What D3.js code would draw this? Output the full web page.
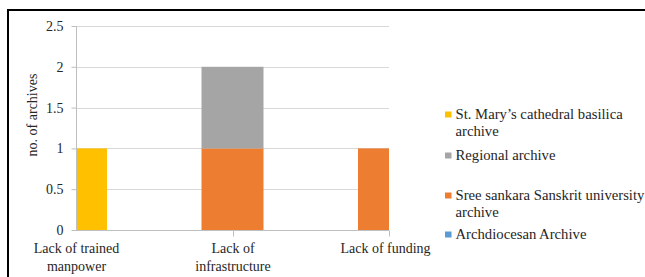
<!DOCTYPE html>
<html>
<head>
<meta charset="utf-8">
<script src="https://cdn.jsdelivr.net/npm/d3@7"></script>
</head>
<body style="margin:0">
<div id="chart"></div>
<script>
// chart data
var categories = ["Lack of trained\nmanpower", "Lack of\ninfrastructure", "Lack of funding"];
var seriesNames = ["Archdiocesan Archive", "Sree sankara Sanskrit university archive", "Regional archive", "St. Mary\u2019s cathedral basilica archive"];
var archdiocesan = [0, 0, 0];
var sreeSankara = [0, 1, 1];
var regional = [0, 1, 0];
var stMarys = [1, 0, 0];
var yTicks = [0, 0.5, 1, 1.5, 2, 2.5];
var colors = ["#5B9BD5", "#ED7D31", "#A5A5A5", "#FFC000"];

// legend text as it wraps in the picture (top to bottom)
var legendLines = [
  ["St. Mary\u2019s cathedral basilica", "archive"],
  ["Regional archive"],
  ["Sree sankara Sanskrit university", "archive"],
  ["Archdiocesan Archive"]
];
var legendColors = ["#FFC000", "#A5A5A5", "#ED7D31", "#5B9BD5"];
var legendY = [119, 160, 200, 239];

var chart = new Object;
var FONT = "'Liberation Serif'";

chart.create = function() {
  var svg, x, y, rows, stack, stacked, g, left = 76, right = 389, bottom = 230, top = 26;
  svg = d3.select("#chart").append("svg").attr("width", 645).attr("height", 277)
    .attr("font-family", FONT);

  // outer frame (only top and left visible)
  svg.append("path").attr("d", "M8,277 V10 H645").attr("fill", "none")
    .attr("stroke", "#000").attr("stroke-width", 2);

  x = d3.scalePoint().domain(categories).range([left, right]);
  y = d3.scaleLinear().domain([0, 2.5]).range([bottom, top]);

  // gridlines
  svg.append("g").selectAll("line").data(yTicks.slice(1)).enter().append("line")
    .attr("x1", left).attr("x2", right)
    .attr("y1", function(d) { return Math.round(y(d)) + 0.5; })
    .attr("y2", function(d) { return Math.round(y(d)) + 0.5; })
    .attr("stroke", "#d9d9d9").attr("stroke-width", 1);

  rows = categories.map(function(c, i) {
    return { cat: c, s0: archdiocesan[i], s1: sreeSankara[i], s2: regional[i], s3: stMarys[i] };
  });
  stack = d3.stack().keys(["s0", "s1", "s2", "s3"]);
  stacked = stack(rows);

  svg.append("clipPath").attr("id", "plot").append("rect")
    .attr("x", left).attr("y", 0).attr("width", right - left).attr("height", 277);

  g = svg.append("g").attr("clip-path", "url(#plot)");
  g.selectAll("g").data(stacked).enter().append("g")
    .attr("fill", function(d, i) { return colors[i]; })
    .selectAll("rect").data(function(d) { return d; }).enter().append("rect")
    .attr("x", function(d) { return x(d.data.cat) - 31; })
    .attr("width", 62)
    .attr("y", function(d) { return y(d[1]); })
    .attr("height", function(d) { return y(d[0]) - y(d[1]); });

  // y axis
  var ya = svg.append("g").attr("transform", "translate(" + (left + 0.5) + ",0)")
    .call(d3.axisLeft(y).tickValues(yTicks).tickSize(5).tickPadding(8).tickFormat(d3.format("")));
  ya.attr("font-family", FONT);
  ya.select(".domain").attr("stroke", "#bfbfbf").attr("d", "M0," + top + "V" + bottom);
  ya.selectAll(".tick line").attr("stroke", "#bfbfbf");
  ya.selectAll(".tick text").attr("font-size", 14).attr("fill", "#262626")
    .attr("font-family", FONT);

  // x axis
  var xa = svg.append("g").attr("transform", "translate(0," + (bottom + 0.5) + ")")
    .call(d3.axisBottom(x).tickSize(6).tickFormat(""));
  xa.attr("font-family", FONT);
  xa.select(".domain").attr("stroke", "#bfbfbf").attr("d", "M" + left + ",0H" + right);
  xa.selectAll(".tick line").attr("stroke", "#bfbfbf")
    .attr("transform", function(d, i) { return i === 1 ? "translate(0.5,0)" : ""; })
    .style("display", function(d, i) { return i === 0 ? "none" : null; });
  xa.selectAll(".tick").append("text")
    .attr("font-size", 14).attr("fill", "#262626").attr("font-family", FONT)
    .attr("text-anchor", "middle")
    .selectAll("tspan").data(function(d) { return d.split("\n"); }).enter().append("tspan")
    .attr("x", function(d, i, n) { return d3.select(n[i].parentNode.parentNode).datum() === categories[2] ? -4 : 0; })
    .attr("y", function(d, i) { return 22 + i * 18; })
    .text(function(d) { return d; });

  // y axis title
  svg.append("text").attr("transform", "translate(37,115) rotate(-90)")
    .attr("font-family", FONT).attr("fill", "#262626")
    .attr("text-anchor", "middle").attr("font-size", 14).text("no. of archives");

  // legend
  var lg = svg.append("g").selectAll("g").data(legendLines).enter().append("g")
    .attr("transform", function(d, i) { return "translate(445," + legendY[i] + ")"; });
  lg.append("rect").attr("x", 0).attr("y", -7.5).attr("width", 6.5).attr("height", 6)
    .attr("fill", function(d, i) { return legendColors[i]; });
  lg.append("text").attr("font-size", 14.7).attr("font-family", FONT).attr("fill", "#262626")
    .selectAll("tspan").data(function(d) { return d; }).enter().append("tspan")
    .attr("x", 10.5).attr("y", function(d, i) { return i * 17; })
    .text(function(d) { return d; });
};

chart.create();
</script>
</body>
</html>
